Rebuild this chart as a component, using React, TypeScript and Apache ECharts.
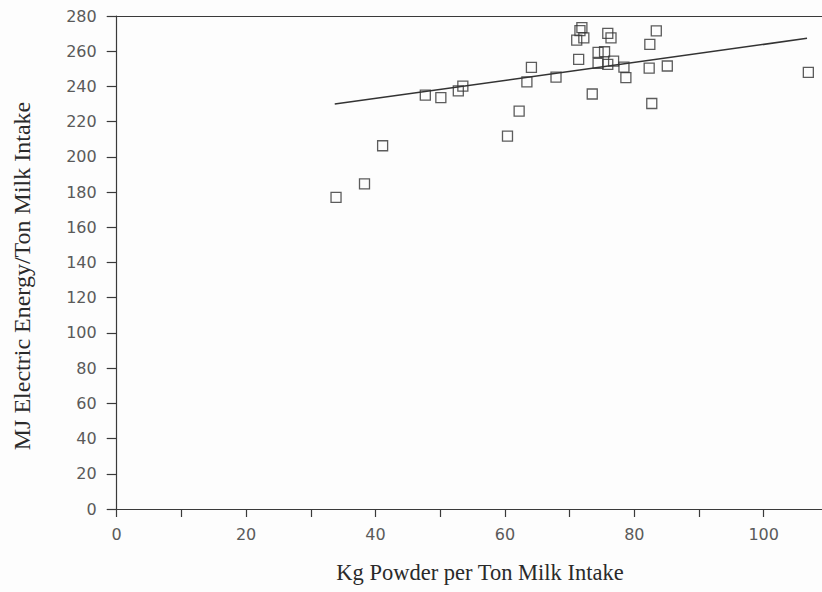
import React, { useEffect, useRef } from "react";
import * as echarts from "echarts";

// Kg powder per ton milk intake (x) vs MJ electric energy per ton milk intake (y)
const powderKg: number[] = [
  33.9, 38.3, 41.1, 47.7, 50.1, 52.8, 53.5, 60.4, 62.2, 63.4, 64.1, 67.9,
  71.4, 73.5, 71.1, 71.9, 71.6, 72.2, 74.4, 75.4, 74.4, 75.9, 76.8, 75.9,
  76.4, 78.4, 78.7, 82.4, 83.4, 82.3, 85.1, 82.7, 106.9,
];
const energyMJ: number[] = [
  177.0, 184.7, 206.3, 235.1, 233.6, 237.5, 240.2, 211.8, 226.0, 242.6, 250.8, 245.3,
  255.4, 235.7, 266.3, 273.4, 271.7, 267.6, 259.3, 259.7, 253.1, 252.5, 254.4, 270.1,
  267.6, 251.0, 245.0, 263.9, 271.6, 250.4, 251.6, 230.3, 248.0,
];
// Fitted trend line end points
const trendX: number[] = [33.7, 106.7];
const trendY: number[] = [230.0, 267.3];

const xTitle = "Kg Powder per Ton Milk Intake";
const yTitle = "MJ Electric Energy/Ton Milk Intake";

export default function App() {
  const ref = useRef<HTMLDivElement>(null);
  useEffect(() => {
    if (!ref.current) return;
    const chart = echarts.init(ref.current, null, { renderer: "svg" });
    const tickFont = {
      fontFamily: "DejaVu Sans",
      fontSize: 16,
      color: "#5a5a5a",
    };
    const axisLineStyle = { color: "#3a3a3a", width: 1.2 };
    chart.setOption({
      animation: false,
      backgroundColor: "#fdfdfd",
      grid: {
        left: 116.7,
        top: 16,
        width: 711.7,
        height: 493,
        outerBoundsMode: "none",
        containLabel: false,
      },
      xAxis: [
        {
          type: "value",
          min: 0,
          max: 110,
          interval: 10,
          splitLine: { show: false },
          axisLine: { show: true, lineStyle: axisLineStyle },
          axisTick: { show: true, length: 8, lineStyle: axisLineStyle },
          axisLabel: {
            ...tickFont,
            margin: 17,
            formatter: (v: number) => (v % 20 === 0 && v <= 100 ? String(v) : ""),
          },
        },
        {
          type: "value",
          position: "top",
          min: 0,
          max: 110,
          splitLine: { show: false },
          axisLine: { show: true, onZero: false, lineStyle: axisLineStyle },
          axisTick: { show: false },
          axisLabel: { show: false },
        },
      ],
      yAxis: {
        type: "value",
        min: 0,
        max: 280,
        interval: 20,
        splitLine: { show: false },
        axisLine: { show: true, lineStyle: axisLineStyle },
        axisTick: { show: true, length: 10, lineStyle: axisLineStyle },
        axisLabel: { ...tickFont, margin: 20 },
      },
      graphic: [
        {
          type: "text",
          x: 480,
          y: 572,
          style: {
            text: xTitle,
            fontFamily: "Liberation Serif",
            fontSize: 22.5,
            fill: "#2a2a2a",
            textAlign: "center",
            textVerticalAlign: "middle",
          },
        },
        {
          type: "text",
          x: 22,
          y: 276,
          rotation: Math.PI / 2,
          style: {
            text: yTitle,
            fontFamily: "Liberation Serif",
            fontSize: 24,
            fill: "#2a2a2a",
            textAlign: "center",
            textVerticalAlign: "middle",
          },
        },
      ],
      series: [
        {
          type: "line",
          data: trendX.map((x, i) => [x, trendY[i]]),
          symbol: "none",
          lineStyle: { color: "#333", width: 1.5 },
          silent: true,
        },
        {
          type: "scatter",
          data: powderKg.map((x, i) => [x, energyMJ[i]]),
          symbol: "rect",
          symbolSize: 10,
          itemStyle: {
            color: "rgba(0,0,0,0)",
            borderColor: "#333",
            borderWidth: 1.3,
          },
        },
      ],
    });
    return () => chart.dispose();
  }, []);
  return (
    <div
      ref={ref}
      style={{ position: "fixed", left: 0, top: 0, width: 822, height: 592 }}
    />
  );
}
